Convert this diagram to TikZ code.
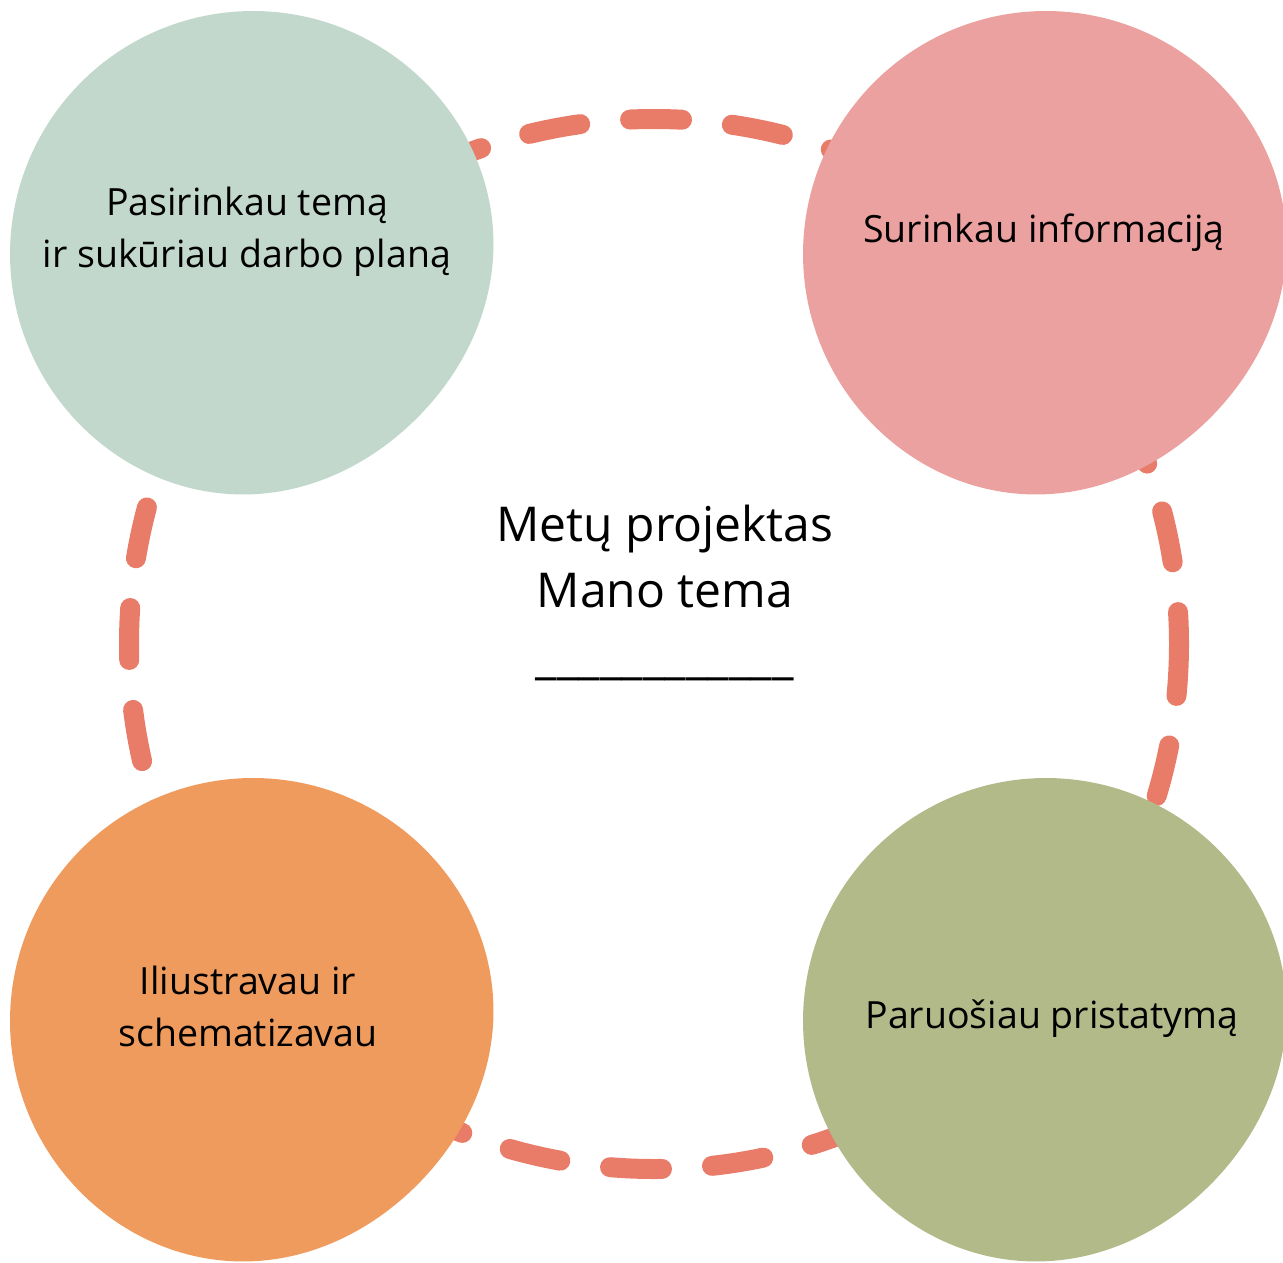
\documentclass[tikz,border=0pt]{standalone}
\usepackage{fontspec}
\setmainfont{Open Sans}
\usetikzlibrary{positioning}
\definecolor{mint}{HTML}{C2D8CD}
\definecolor{rose}{HTML}{EBA1A0}
\definecolor{apricot}{HTML}{EF9B5D}
\definecolor{olive}{HTML}{B2BA8A}
\definecolor{coral}{HTML}{E97C69}
\tikzset{
  loopline/.style={draw=coral, line width=20pt, line cap=round,
    dash pattern=on 52pt off 50.1pt},
  blobtext/.style={font=\fontsize{37.5}{52}\selectfont, align=center, anchor=base},
  titletext/.style={font=\fontsize{48}{66}\selectfont, align=center, anchor=base}
}
% one hand drawn blob, #1 = shift, #2 = colour
\newcommand\blob[2]{%
  \fill[#2, shift={(#1)}] plot[domain=0:356, samples=90, smooth cycle]
    ({253+(243-11*max(0,cos(\x-45))^4)*cos(\x)},
     {254+(243-11*max(0,cos(\x-45))^4)*sin(\x)});}

\begin{document}
\begin{tikzpicture}[x=1pt, y=-1pt]
	\useasboundingbox (0,0) rectangle (1283,1263);
	\clip (0,0) rectangle (1283,1263);
	% dashed ring behind
	\draw[loopline] (654,644) ++(525,0) arc[start angle=0, end angle=360, radius=525];
	% the four blobs
	\blob{0,0}{mint}
	\blob{793,0}{rose}
	\blob{0,767}{apricot}
	\blob{793,767}{olive}
	\node[blobtext] (pasirinkau) at (247,267) {Pasirinkau temą\\ir sukūriau darbo planą};
	\node[blobtext] (surinkau) at (1044,242) {Surinkau informaciją};
	\node[blobtext] (iliustravau) at (248,1046) {Iliustravau ir\\schematizavau};
	\node[blobtext] (paruosiau) at (1052,1028) {Paruošiau pristatymą};
	\node[titletext] (tema) at (665,673) {Metų projektas\\Mano tema\\\_\_\_\_\_\_\_\_\_\_\_\_};
\end{tikzpicture}
\end{document}
